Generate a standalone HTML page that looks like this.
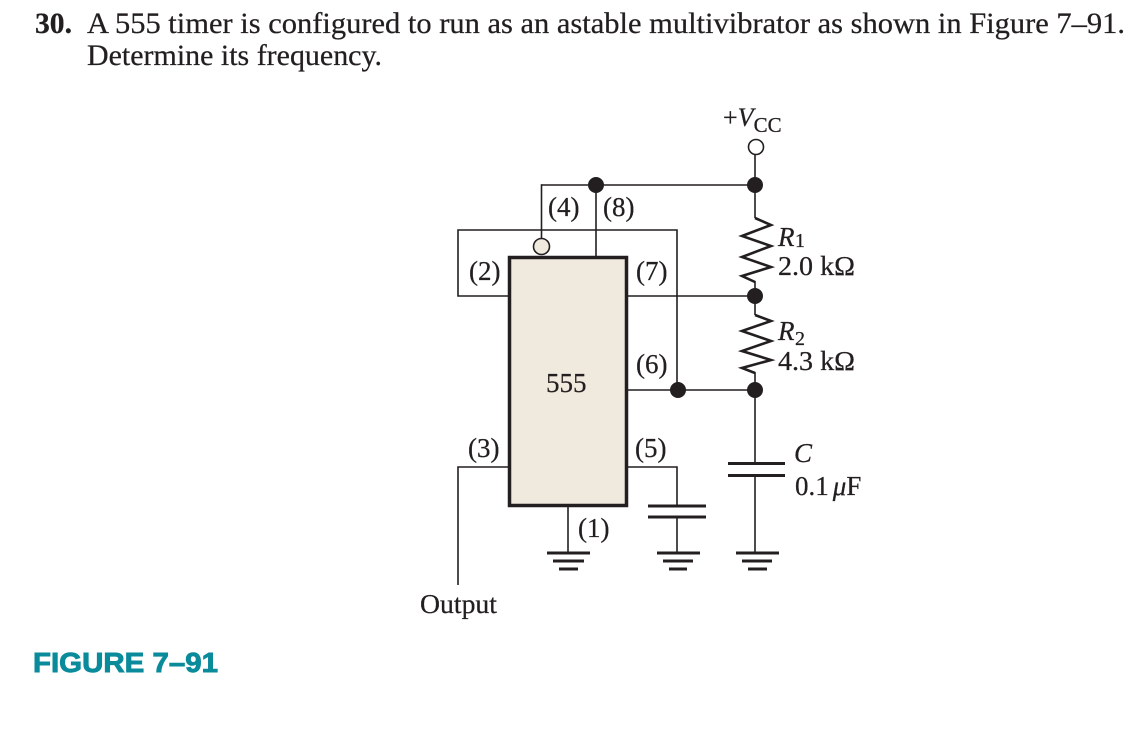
<!DOCTYPE html>
<html>
<head>
<meta charset="utf-8">
<style>
  html, body { margin: 0; padding: 0; background: #ffffff; }
  body { width: 1148px; height: 742px; overflow: hidden; }
  svg { display: block; }
  text { font-family: "Liberation Serif", "Times New Roman", serif; fill: #231f20; stroke: #231f20; stroke-width: 0.25; }
</style>
</head>
<body>
<svg width="1148" height="742" viewBox="0 0 1148 742" xmlns="http://www.w3.org/2000/svg">
  <!-- Title -->
  <text x="35" y="33" font-size="30" font-weight="bold" textLength="37" lengthAdjust="spacingAndGlyphs">30.</text>
  <text x="87" y="33" font-size="30" textLength="1038" lengthAdjust="spacingAndGlyphs">A 555 timer is configured to run as an astable multivibrator as shown in Figure 7–91.</text>
  <text x="87" y="65" font-size="30" textLength="295" lengthAdjust="spacingAndGlyphs">Determine its frequency.</text>

  <!-- Figure label -->
  <text x="33" y="672" font-size="28" font-weight="bold" textLength="185" lengthAdjust="spacingAndGlyphs" style="font-family:'Liberation Sans', Arial, sans-serif; fill:#0a8b9b; stroke:#0a8b9b; stroke-width:0.9;">FIGURE 7–91</text>

  <g stroke="#231f20" stroke-width="1.6" fill="none" stroke-linecap="butt">
    <!-- Vcc terminal stem -->
    <line x1="755" y1="154.5" x2="755" y2="218"/>
    <!-- top bus -->
    <line x1="541.5" y1="185" x2="755" y2="185"/>
    <line x1="541.5" y1="184.2" x2="541.5" y2="238.5"/>
    <!-- pin 8 -->
    <line x1="596" y1="185" x2="596" y2="256"/>
    <!-- pin 2 loop to pin 6 -->
    <polyline points="508,296 458,296 458,230 677,230 677,390"/>
    <!-- pin 7 -->
    <line x1="627" y1="296" x2="755" y2="296"/>
    <!-- pin 6 -->
    <line x1="627" y1="390" x2="755" y2="390"/>
    <!-- R1 to R2 -->
    <line x1="755" y1="281" x2="755" y2="315"/>
    <line x1="755" y1="372" x2="755" y2="463"/>
    <line x1="755" y1="476" x2="755" y2="553"/>
    <!-- pin 5 -->
    <polyline points="627,467 677,467 677,506"/>
    <line x1="677" y1="517" x2="677" y2="553"/>
    <!-- pin 1 -->
    <line x1="568" y1="507" x2="568" y2="553"/>
    <!-- pin 3 output -->
    <polyline points="508,467 458,467 458,585"/>
  </g>

  <!-- Resistors -->
  <g stroke="#231f20" stroke-width="2.6" fill="none" stroke-linejoin="miter" stroke-miterlimit="10">
    <polyline points="755,218 771,225 742,236 771,246 742,257 771,267 742,276 755,282"/>
    <polyline points="755,315 771,321 742,331 771,341 742,351 771,360 742,368 755,373"/>
  </g>

  <!-- Capacitors and grounds -->
  <g stroke="#231f20" stroke-width="3" fill="none">
    <line x1="728" y1="463.5" x2="785" y2="463.5"/>
    <line x1="728" y1="475.5" x2="785" y2="475.5"/>
    <line x1="648" y1="506" x2="706" y2="506"/>
    <line x1="648" y1="517" x2="706" y2="517"/>
    <!-- ground C -->
    <line x1="736" y1="553" x2="779" y2="553"/>
    <line x1="742" y1="561" x2="772" y2="561"/>
    <line x1="748" y1="569" x2="767" y2="569"/>
    <!-- ground pin5 -->
    <line x1="657" y1="553" x2="700" y2="553"/>
    <line x1="663" y1="561" x2="693" y2="561"/>
    <line x1="669" y1="569" x2="687" y2="569"/>
    <!-- ground pin1 -->
    <line x1="547" y1="553" x2="590" y2="553"/>
    <line x1="553" y1="561" x2="584" y2="561"/>
    <line x1="559" y1="569" x2="578" y2="569"/>
  </g>

  <!-- 555 box -->
  <rect x="509.5" y="257.5" width="117" height="248" fill="#f0e9dd" stroke="#231f20" stroke-width="3.5"/>
  <!-- pin 4 bubble -->
  <circle cx="541.5" cy="246.5" r="8" fill="#f0e9dd" stroke="#231f20" stroke-width="1.6"/>
  <!-- Vcc terminal -->
  <circle cx="756" cy="147" r="7.5" fill="#ffffff" stroke="#231f20" stroke-width="1.6"/>

  <!-- Junction dots -->
  <g fill="#231f20">
    <circle cx="596" cy="185" r="8"/>
    <circle cx="755" cy="185" r="8"/>
    <circle cx="755" cy="296" r="8"/>
    <circle cx="755" cy="390" r="8"/>
    <circle cx="678" cy="390" r="8"/>
  </g>

  <!-- Labels -->
  <g font-size="27">
    <text x="723" y="126" font-size="26">+<tspan font-style="italic">V</tspan><tspan font-size="21" dy="6">CC</tspan></text>

    <text x="548" y="216">(4)</text>
    <text x="603" y="216">(8)</text>
    <text x="469" y="280">(2)</text>
    <text x="636" y="280">(7)</text>
    <text x="636" y="373">(6)</text>
    <text x="546" y="392">555</text>
    <text x="468" y="457">(3)</text>
    <text x="635" y="457">(5)</text>
    <text x="578" y="537">(1)</text>
    <text x="420" y="613" textLength="77" lengthAdjust="spacingAndGlyphs">Output</text>

    <text x="778" y="246" font-style="italic">R</text>
    <text x="795" y="247" font-size="20">1</text>
    <text x="778" y="275" textLength="77" lengthAdjust="spacingAndGlyphs">2.0 kΩ</text>

    <text x="778" y="340" font-style="italic">R</text>
    <text x="795" y="345" font-size="20">2</text>
    <text x="778" y="370" textLength="77" lengthAdjust="spacingAndGlyphs">4.3 kΩ</text>

    <text x="794" y="462" font-style="italic">C</text>
    <text x="795" y="495">0.1<tspan font-style="italic" dx="4">μ</tspan>F</text>
  </g>
</svg>
</body>
</html>
